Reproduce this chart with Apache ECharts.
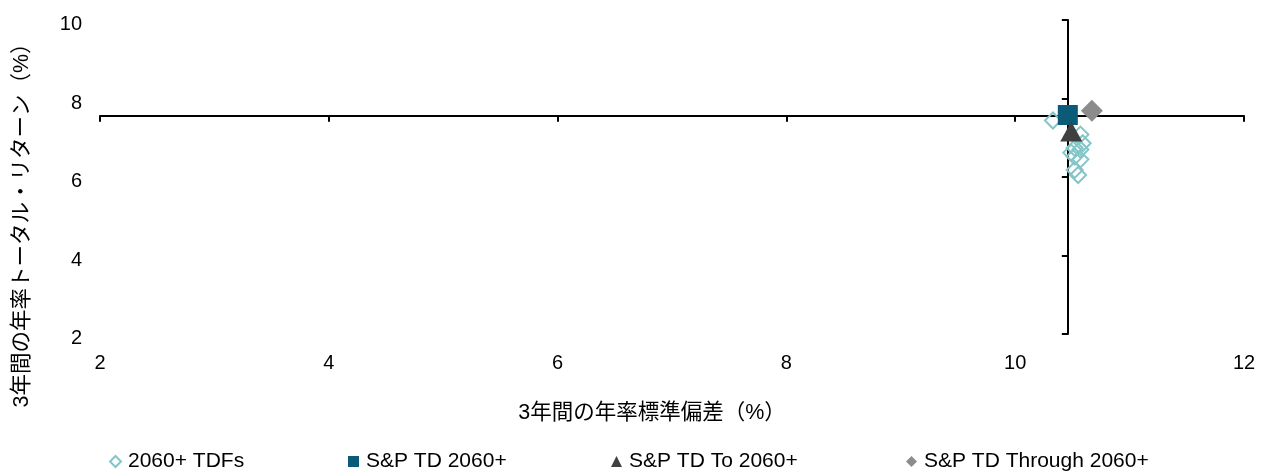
<!DOCTYPE html>
<html>
<head>
<meta charset="utf-8">
<script src="https://cdn.jsdelivr.net/npm/echarts@6/dist/echarts.min.js"></script>
<style>
html,body{margin:0;padding:0;background:#fff;}
#c{width:1265px;height:472px;}
</style>
</head>
<body>
<div id="c"></div>
<script>
// ---- data ----
const seriesNames = ['2060+ TDFs', 'S&P TD 2060+', 'S&P TD To 2060+', 'S&P TD Through 2060+'];
const tdfs = [
  [10.33, 7.44],
  [10.57, 7.08],
  [10.59, 6.86],
  [10.52, 6.74],
  [10.57, 6.70],
  [10.49, 6.62],
  [10.52, 6.52],
  [10.57, 6.45],
  [10.52, 6.18],
  [10.55, 6.05]
];
const spTD = [[10.46, 7.58]];
const spTo = [[10.49, 7.16]];
const spThrough = [[10.67, 7.69]];
const xTicks = [2, 4, 6, 8, 10, 12];
const yTicks = [2, 4, 6, 8, 10];
const axisCross = [10.46, 7.56]; // where the axis lines cross (x, y)
const xTitle = '3年間の年率標準偏差（%）';
const yTitle = '3年間の年率トータル・リターン（%）';

// ---- layout ----
const gridLeft = 100, gridTop = 20, gridW = 1144, gridH = 314;
const xMin = xTicks[0], xMax = xTicks[xTicks.length - 1];
const yMin = yTicks[0], yMax = yTicks[yTicks.length - 1];
const font = '"Liberation Sans", Arial, "Noto Sans CJK JP", sans-serif';
const fs = 20;

const xLineOffset = -(axisCross[1] - yMin) / (yMax - yMin) * gridH;
const yLineOffset = -(axisCross[0] - xMin) / (xMax - xMin) * gridW;

const chart = echarts.init(document.getElementById('c'), null, {renderer: 'canvas'});

const colors = {tdf: '#84c5c7', td: '#0b5b78', to: '#404040', through: '#8c8c8c'};

function legendAt(name, left) {
  return {
    data: [name], left: left, top: 451, itemWidth: 11, itemHeight: 11, itemGap: 0,
    padding: 0,
    textStyle: {fontFamily: font, fontSize: 21, color: '#000', padding: [0, 0, 0, 2]},
    selectedMode: false
  };
}

chart.setOption({
  animation: false,
  backgroundColor: '#fff',
  grid: {left: gridLeft, top: gridTop, width: gridW, height: gridH},
  legend: [
    legendAt(seriesNames[0], 109),
    legendAt(seriesNames[1], 348),
    legendAt(seriesNames[2], 611),
    legendAt(seriesNames[3], 906)
  ],
  xAxis: [
    {
      type: 'value', min: xMin, max: xMax, interval: 2, position: 'bottom',
      axisLine: {show: false}, axisTick: {show: false}, splitLine: {show: false},
      axisLabel: {fontFamily: font, fontSize: fs, color: '#000', margin: 19},
      name: xTitle, nameLocation: 'middle', nameGap: 68,
      nameTextStyle: {fontFamily: font, fontSize: 21.5, color: '#000', padding: [0, 40, 0, 0]}
    },
    {
      type: 'value', min: xMin, max: xMax, interval: 2, position: 'bottom',
      offset: xLineOffset,
      axisLine: {show: true, onZero: false, lineStyle: {color: '#000', width: 2}},
      axisTick: {show: true, length: 6, lineStyle: {color: '#000', width: 2}},
      axisLabel: {show: false}, splitLine: {show: false}
    }
  ],
  yAxis: [
    {
      type: 'value', min: yMin, max: yMax, interval: 2, position: 'left',
      axisLine: {show: false}, axisTick: {show: false}, splitLine: {show: false},
      axisLabel: {fontFamily: font, fontSize: fs, color: '#000', margin: 18, verticalAlign: 'top', lineHeight: 9},
      name: yTitle, nameLocation: 'middle', nameGap: 67, nameRotate: 90,
      nameTextStyle: {fontFamily: font, fontSize: 21.5, color: '#000', padding: [0, 86, 0, 0], align: 'center'}
    },
    {
      type: 'value', min: yMin, max: yMax, interval: 2, position: 'left',
      offset: yLineOffset,
      axisLine: {show: true, onZero: false, lineStyle: {color: '#000', width: 2}},
      axisTick: {show: true, length: 6, lineStyle: {color: '#000', width: 2}},
      axisLabel: {show: false}, splitLine: {show: false}
    }
  ],
  series: [
    {
      name: seriesNames[0], type: 'scatter', data: tdfs, symbol: 'diamond', symbolSize: 16,
      itemStyle: {color: 'rgba(255,255,255,0)', borderColor: colors.tdf, borderWidth: 2, opacity: 1},
      z: 3
    },
    {
      name: seriesNames[1], type: 'scatter', data: spTD, symbol: 'rect', symbolSize: 20,
      itemStyle: {color: colors.td, opacity: 1}, z: 4
    },
    {
      name: seriesNames[2], type: 'scatter', data: spTo, symbol: 'triangle', symbolSize: [22, 20],
      itemStyle: {color: colors.to, opacity: 1}, z: 5
    },
    {
      name: seriesNames[3], type: 'scatter', data: spThrough, symbol: 'diamond', symbolSize: 22,
      itemStyle: {color: colors.through, opacity: 1}, z: 6
    }
  ]
});
</script>
</body>
</html>
